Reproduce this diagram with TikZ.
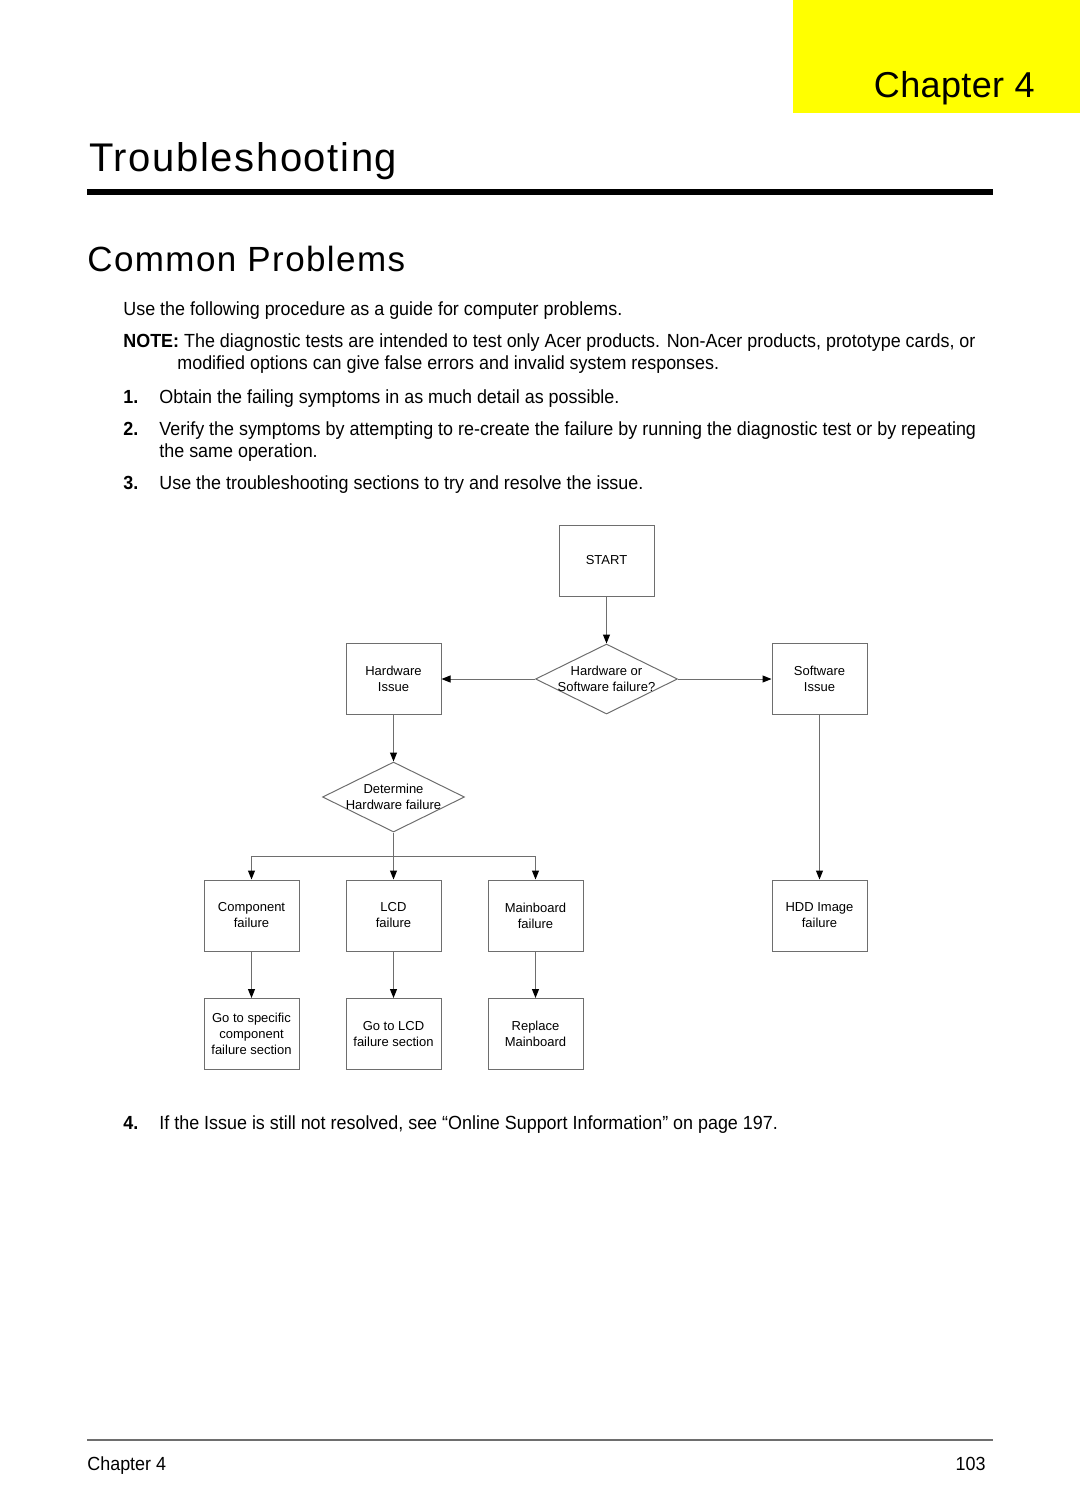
\documentclass[tikz,border=0pt]{standalone}
\usepackage{fontspec}
\setmainfont{Liberation Sans}
\newfontfamily\bodyfont{Liberation Sans}[FakeStretch=0.943]
\newfontfamily\headfont{Liberation Sans}[LetterSpace=4.0]
\newfontfamily\chapfont{Liberation Sans}[LetterSpace=1.0]
\usetikzlibrary{arrows.meta, positioning, shapes.geometric}
\definecolor{chapteryellow}{RGB}{255,255,0}
\definecolor{linegray}{RGB}{110,110,110}
\newcommand\flowsize{\fontsize{6.5}{8}\selectfont}
\newcommand\bodysize{\bodyfont\fontsize{9.5}{11}\selectfont}

\begin{document}
\begin{tikzpicture}[
    x=0.5pt, y=-0.5pt,
    stepbox/.style={
        draw=linegray, line width=0.5pt,
        align=center, font=\flowsize,
        minimum width=47.5pt, minimum height=35.5pt,
        inner sep=1pt
    },
    decision/.style={
        draw=linegray, line width=0.5pt, diamond,
        minimum width=71pt, minimum height=35pt,
        inner sep=0pt
    },
    dtext/.style={align=center, font=\flowsize, inner sep=0pt},
    arrow/.style={-{Triangle[length=4.5pt, width=3.5pt, color=black]},
        draw=linegray, line width=0.5pt},
    body/.style={anchor=base west, inner sep=0pt, font=\bodysize},
    heading/.style={anchor=base west, inner sep=0pt}
]
\useasboundingbox (0,0) rectangle (1080,1512);

% ===== PAGE HEADER =====
\fill[chapteryellow] (793,0) rectangle (1080,113);
\node[anchor=base east, inner sep=0pt, font=\chapfont\fontsize{18}{22}\selectfont]
  (chapter) at (1035,97) {Chapter 4};

\node[heading, font=\headfont\fontsize{20}{24}\selectfont] (title) at (89,171) {Troubleshooting};
\draw[line width=3pt] (87,192) -- (993,192);

\node[heading, font=\headfont\fontsize{17.5}{21}\selectfont] (common) at (87,271) {Common Problems};

% ===== INTRO TEXT =====
\node[body] (intro) at (123,315) {Use the following procedure as a guide for computer problems.};
\node[body] (note) at (123,347)
{\textbf{NOTE:} The diagnostic tests are intended to test only Acer products. Non-Acer products, prototype cards, or};
\node[body] (note2) at (177,369) {modified options can give false errors and invalid system responses.};

\node[body] (n1) at (123,403) {\textbf{1.}};
\node[body] (s1) at (159,403) {Obtain the failing symptoms in as much detail as possible.};
\node[body] (n2) at (123,435) {\textbf{2.}};
\node[body] (s2) at (159,435)
{Verify the symptoms by attempting to re-create the failure by running the diagnostic test or by repeating};
\node[body] (s2b) at (159,457) {the same operation.};
\node[body] (n3) at (123,489) {\textbf{3.}};
\node[body] (s3) at (159,489) {Use the troubleshooting sections to try and resolve the issue.};

% ===== FLOWCHART =====
\node[stepbox] (start) at (606.5,560.5) {START};
\node[decision, label={[dtext]center:{Hardware or\\Software failure?}}] (hwsw) at (606.5,679) {};
\node[stepbox] (hwissue) at (393.5,679) {Hardware\\Issue};
\node[stepbox] (swissue) at (819.5,679) {Software\\Issue};

\node[decision, label={[dtext]center:{Determine\\Hardware failure}}] (detfail) at (393.5,797) {};

\node[stepbox] (compfail) at (251.5,915.5) {Component\\failure};
\node[stepbox] (lcdfail) at (393.5,915.5) {LCD\\failure};
\node[stepbox] (mbfail) at (535.5,915.5) {Mainboard\\failure};
\node[stepbox] (hddfail) at (819.5,915.5) {HDD Image\\failure};

\node[stepbox] (gocomp) at (251.5,1034) {Go to specific\\component\\failure section};
\node[stepbox] (golcd) at (393.5,1034) {Go to LCD\\failure section};
\node[stepbox] (replmb) at (535.5,1034) {Replace\\Mainboard};

\coordinate (split) at (393.5,856);

\draw[arrow] (start) -- (hwsw);
\draw[arrow] (hwsw) -- (hwissue);
\draw[arrow] (hwsw) -- (swissue);
\draw[arrow] (hwissue) -- (detfail);
\draw[arrow] (swissue) -- (hddfail);

\draw[arrow] (detfail) -- (lcdfail);
\draw[arrow] (split) -| (compfail.north);
\draw[arrow] (split) -| (mbfail.north);

\draw[arrow] (compfail) -- (gocomp);
\draw[arrow] (lcdfail) -- (golcd);
\draw[arrow] (mbfail) -- (replmb);

% ===== CLOSING STEP =====
\node[body] (n4) at (123,1129) {\textbf{4.}};
\node[body] (s4) at (159,1129) {If the Issue is still not resolved, see “Online Support Information” on page 197.};

% ===== FOOTER =====
\draw[linegray, line width=1pt] (87,1440) -- (993,1440);
\node[body] (footl) at (87,1470) {Chapter 4};
\node[body, anchor=base east] (footr) at (986,1470) {103};

\end{tikzpicture}
\end{document}
